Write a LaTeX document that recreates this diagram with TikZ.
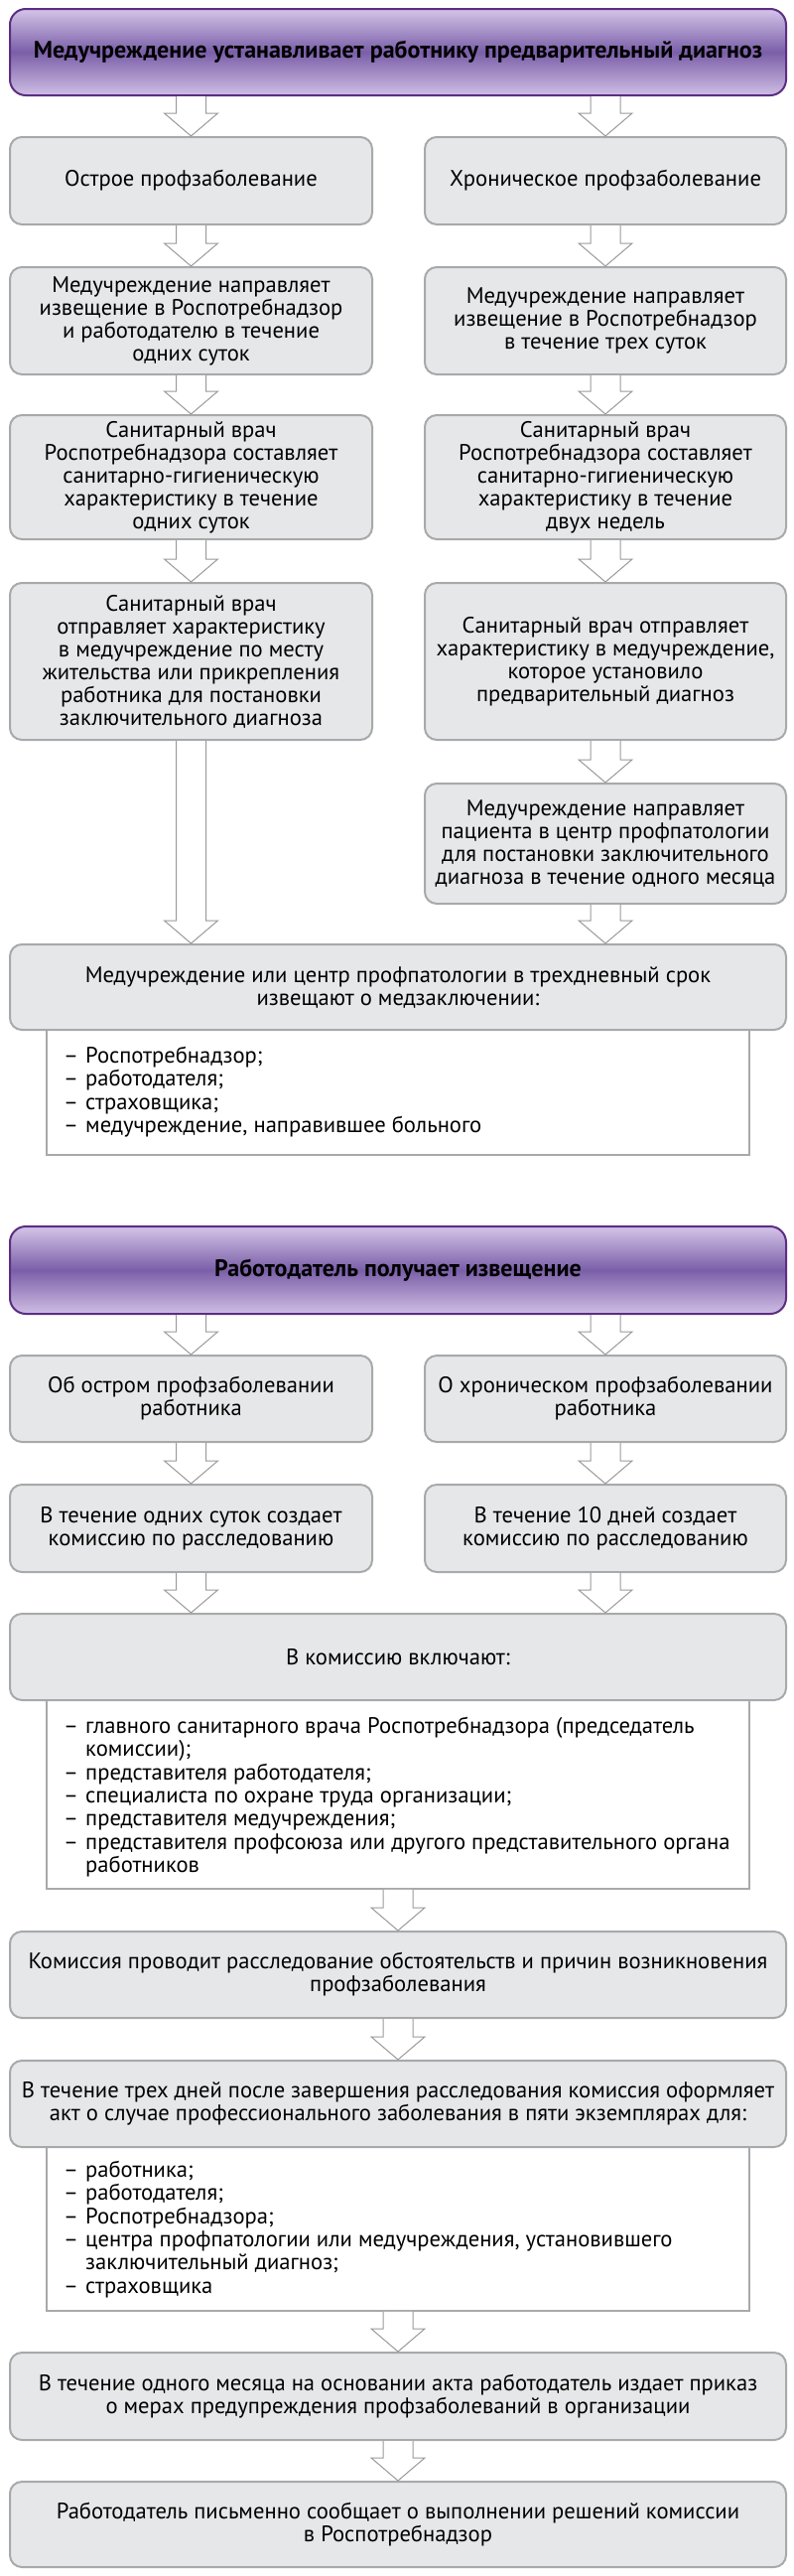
\documentclass[tikz,border=0pt]{standalone}
\usepackage{fontspec}
\setmainfont{PT Sans}
\usetikzlibrary{calc}
\definecolor{boxfill}{HTML}{E6E7E8}
\definecolor{boxline}{HTML}{A8A9AB}
\definecolor{arrline}{HTML}{9A9A9A}
\definecolor{purpline}{HTML}{5B2E83}
\definecolor{purptop}{HTML}{D4C4E8}
\definecolor{purpmid}{HTML}{7A5FA8}
\definecolor{purpbot}{HTML}{D0BEE4}
\newcommand{\itm}{\makebox[22pt][l]{–}}
\newcommand{\cnt}{\makebox[22pt][l]{}}
\newcommand{\barrow}[3]{%
  \draw[barr] let \p0=(#1), \p1=(#2.south), \p2=(#3.north) in
    (\x0-15pt,\y1) -- (\x0-15pt,\y2+23pt) -- (\x0-27pt,\y2+23pt) -- (\x0,\y2)
    -- (\x0+27pt,\y2+23pt) -- (\x0+15pt,\y2+23pt) -- (\x0+15pt,\y1);}
\tikzset{
  gbox/.style={draw=boxline, line width=2pt, fill=boxfill, rounded corners=12pt,
    align=center, inner sep=0pt, font=\fontsize{22.6}{23}\selectfont},
  pbox/.style={draw=purpline, line width=2pt, rounded corners=16pt,
    top color=purptop, bottom color=purpbot, middle color=purpmid,
    align=center, inner sep=0pt, font=\bfseries\fontsize{24}{26}\selectfont},
  lbox/.style={draw=boxline, line width=1.6pt, fill=white, inner sep=0pt},
  ltext/.style={align=left, anchor=north west, inner sep=0pt,
    font=\fontsize{22.6}{23.3}\selectfont},
  barr/.style={draw=arrline, line width=1pt, fill=white, line join=miter},
}
\begin{document}
\begin{tikzpicture}[x=1pt, y=-1pt]
\useasboundingbox (0,0) rectangle (800,2594);
\fill[white] (0,0) rectangle (800,2594);

% ---------- section 1 ----------
\node[pbox, minimum width=782pt, minimum height=87pt] (top) at (401,52.5)
  {Медучреждение устанавливает работнику предварительный диагноз};

\node[gbox, minimum width=365pt, minimum height=88pt] (l1) at (192.5,182)
  {Острое профзаболевание};
\node[gbox, minimum width=364pt, minimum height=88pt] (r1) at (610,182)
  {Хроническое профзаболевание};

\node[gbox, minimum width=365pt, minimum height=108pt] (l2) at (192.5,323)
  {Медучреждение направляет\\извещение в Роспотребнадзор\\и работодателю в течение\\одних суток};
\node[gbox, minimum width=364pt, minimum height=108pt] (r2) at (610,323)
  {Медучреждение направляет\\извещение в Роспотребнадзор\\в течение трех суток};

\node[gbox, minimum width=365pt, minimum height=125pt] (l3) at (192.5,480.5)
  {Санитарный врач\\Роспотребнадзора составляет\\санитарно-гигиеническую\\характеристику в течение\\одних суток};
\node[gbox, minimum width=364pt, minimum height=125pt] (r3) at (610,480.5)
  {Санитарный врач\\Роспотребнадзора составляет\\санитарно-гигиеническую\\характеристику в течение\\двух недель};

\node[gbox, minimum width=365pt, minimum height=158pt] (l4) at (192.5,666)
  {Санитарный врач\\отправляет характеристику\\в медучреждение по месту\\жительства или прикрепления\\работника для постановки\\заключительного диагноза};
\node[gbox, minimum width=364pt, minimum height=158pt] (r4) at (610,666)
  {Санитарный врач отправляет\\характеристику в медучреждение,\\которое установило\\предварительный диагноз};

\node[gbox, minimum width=364pt, minimum height=121pt] (r5) at (610,849.5)
  {Медучреждение направляет\\пациента в центр профпатологии\\для постановки заключительного\\диагноза в течение одного месяца};

\node[lbox, minimum width=708pt, minimum height=126pt] (list1) at (401,1100) {};
\node[ltext] (list1t) at (64,1054)
  {\itm Роспотребнадзор;\\\itm работодателя;\\\itm страховщика;\\\itm медучреждение, направившее больного};
\node[gbox, minimum width=782pt, minimum height=86pt] (big1) at (401,994)
  {Медучреждение или центр профпатологии в трехдневный срок\\извещают о медзаключении:};

% ---------- section 2 ----------
\node[pbox, minimum width=782pt, minimum height=88pt] (top2) at (401,1279)
  {Работодатель получает извещение};

\node[gbox, minimum width=365pt, minimum height=87pt] (m1) at (192.5,1408.5)
  {Об остром профзаболевании\\работника};
\node[gbox, minimum width=364pt, minimum height=87pt] (n1) at (610,1408.5)
  {О хроническом профзаболевании\\работника};

\node[gbox, minimum width=365pt, minimum height=88pt] (m2) at (192.5,1539)
  {В течение одних суток создает\\комиссию по расследованию};
\node[gbox, minimum width=364pt, minimum height=88pt] (n2) at (610,1539)
  {В течение 10 дней создает\\комиссию по расследованию};

\node[lbox, minimum width=708pt, minimum height=190pt] (list2) at (401,1807) {};
\node[ltext] (list2t) at (64,1729)
  {\itm главного санитарного врача Роспотребнадзора (председатель\\
   \cnt комиссии);\\
   \itm представителя работодателя;\\
   \itm специалиста по охране труда организации;\\
   \itm представителя медучреждения;\\
   \itm представителя профсоюза или другого представительного органа\\
   \cnt работников};
\node[gbox, minimum width=782pt, minimum height=87pt] (big2) at (401,1668.5)
  {В комиссию включают:};

\node[gbox, minimum width=782pt, minimum height=87pt] (b3) at (401,1988.5)
  {Комиссия проводит расследование обстоятельств и причин возникновения\\профзаболевания};

\node[lbox, minimum width=708pt, minimum height=165pt] (list3) at (401,2244.5) {};
\node[ltext] (list3t) at (64,2176)
  {\itm работника;\\
   \itm работодателя;\\
   \itm Роспотребнадзора;\\
   \itm центра профпатологии или медучреждения, установившего\\
   \cnt заключительный диагноз;\\
   \itm страховщика};
\node[gbox, minimum width=782pt, minimum height=87pt] (b4) at (401,2118.5)
  {В течение трех дней после завершения расследования комиссия оформляет\\акт о случае профессионального заболевания в пяти экземплярах для:};

\node[gbox, minimum width=782pt, minimum height=88pt] (b5) at (401,2413)
  {В течение одного месяца на основании акта работодатель издает приказ\\о мерах предупреждения профзаболеваний в организации};

\node[gbox, minimum width=782pt, minimum height=86pt] (b6) at (401,2542)
  {Работодатель письменно сообщает о выполнении решений комиссии\\в Роспотребнадзор};

% ---------- arrows ----------
\barrow{l1}{top}{l1}
\barrow{r1}{top}{r1}
\barrow{l1}{l1}{l2}
\barrow{r1}{r1}{r2}
\barrow{l2}{l2}{l3}
\barrow{r2}{r2}{r3}
\barrow{l3}{l3}{l4}
\barrow{r3}{r3}{r4}
\barrow{r4}{r4}{r5}
\barrow{l4}{l4}{big1}
\barrow{r5}{r5}{big1}

\barrow{m1}{top2}{m1}
\barrow{n1}{top2}{n1}
\barrow{m1}{m1}{m2}
\barrow{n1}{n1}{n2}
\barrow{m2}{m2}{big2}
\barrow{n2}{n2}{big2}
\barrow{list2}{list2}{b3}
\barrow{b3}{b3}{b4}
\barrow{list3}{list3}{b5}
\barrow{b5}{b5}{b6}
\end{tikzpicture}
\end{document}
